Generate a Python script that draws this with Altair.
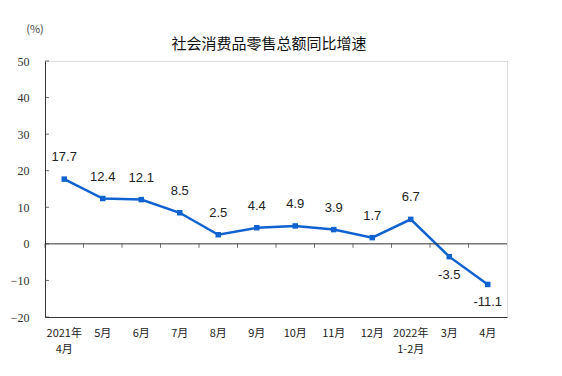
import altair as alt
import pandas as pd

months = ["2021年|4月", "5月", "6月", "7月", "8月", "9月", "10月", "11月", "12月", "2022年|1-2月", "3月", "4月"]
growth = [17.7, 12.4, 12.1, 8.5, 2.5, 4.4, 4.9, 3.9, 1.7, 6.7, -3.5, -11.1]
y_ticks = [-20, -10, 0, 10, 20, 30, 40, 50]
title_text = "社会消费品零售总额同比增速"
unit_text = "(%)"

df = pd.DataFrame({"month": months, "value": growth})
df["label"] = df["value"].map(lambda v: f"{v:.1f}")
tick_df = pd.DataFrame({"value": y_ticks})

BLUE = "#0f62d0"
xax = alt.Axis(title=None, labelAngle=0, ticks=False, domain=True, domainColor="#333",
               labelExpr="split(datum.value, '|')", labelFont="Noto Sans CJK SC",
               labelFontSize=11, labelColor="#222", labelPadding=10, labelLineHeight=16)
yax = alt.Axis(title=None, values=y_ticks, grid=False, ticks=False, domainColor="#333",
               labelFont="Liberation Serif", labelFontSize=12, labelColor="#333",
               labelPadding=16, labelOverlap=False)
xscale = alt.Scale(domain=months, paddingInner=0, paddingOuter=0)
yscale = alt.Scale(domain=[-20, 50], nice=False)

def X(**kw):
    return alt.X("month:N", scale=xscale, axis=xax, **kw)

def Y(field="value:Q"):
    return alt.Y(field, scale=yscale, axis=yax)

base = alt.Chart(df)

zero = alt.Chart(pd.DataFrame({"value": [0]})).mark_rule(color="#333", strokeWidth=1).encode(y=Y())

zticks = base.mark_tick(orient="vertical", size=4, color="#333", thickness=1, yOffset=2).encode(
    x=X(bandPosition=0), y=alt.Y(datum=0, scale=yscale, axis=yax))

yticks = alt.Chart(tick_df).mark_tick(orient="horizontal", size=4, color="#333", thickness=1).encode(
    x=alt.value(2), y=Y())

line = base.mark_line(color=BLUE, strokeWidth=2.5).encode(x=X(), y=Y())
pts = base.mark_point(shape="square", filled=True, size=30, color=BLUE, opacity=1).encode(x=X(), y=Y())

lab_up = base.transform_filter("datum.value >= 0").mark_text(
    font="Liberation Sans", fontSize=13, color="#222", dy=-22).encode(x=X(), y=Y(), text="label:N")
lab_dn = base.transform_filter("datum.value < 0").mark_text(
    font="Liberation Sans", fontSize=13, color="#222", dy=18).encode(x=X(), y=Y(), text="label:N")

pct = alt.Chart(pd.DataFrame({"t": [unit_text]})).mark_text(
    font="Noto Sans CJK SC", fontSize=11, color="#444").encode(
    x=alt.value(-10), y=alt.value(-31), text="t:N")

ttl = alt.Chart(pd.DataFrame({"t": [title_text]})).mark_text(
    font="Noto Sans CJK SC", fontSize=15, color="#111").encode(
    x=alt.value(224), y=alt.value(-17), text="t:N")

chart = alt.layer(line, zero, zticks, yticks, pts, lab_up, lab_dn, pct, ttl).properties(
    width=462, height=256,
    autosize=alt.AutoSizeParams(type="none"),
    padding={"left": 37, "top": 53, "right": 40, "bottom": 40},
).configure_view(stroke="#aaa", strokeWidth=1).configure(background="white")

chart.save("out.html", embed_options={"renderer": "svg", "actions": False})
